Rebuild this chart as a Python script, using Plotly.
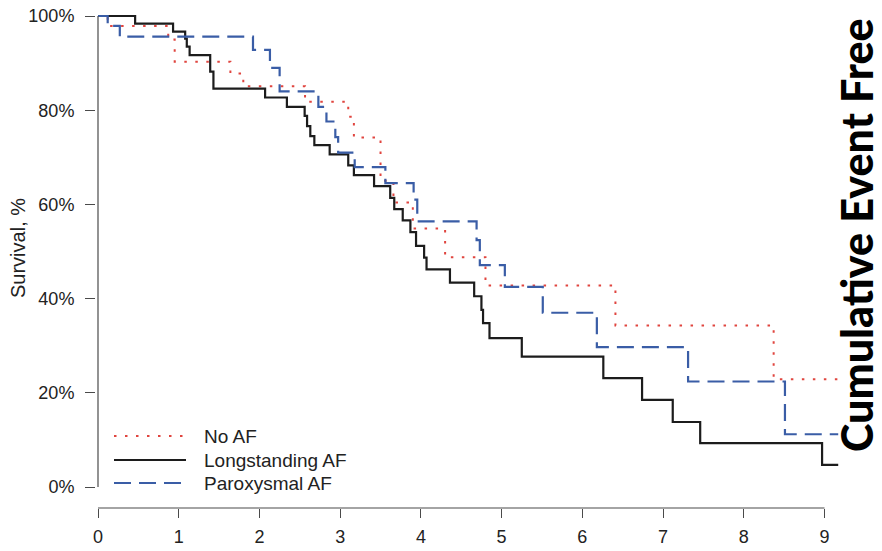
import plotly.graph_objects as go

# ---- data (time in years, survival fraction) ----
long_t = [0, 0.46, 0.93, 1.08, 1.10, 1.135, 1.39, 1.43, 2.07, 2.34, 2.56, 2.59, 2.63, 2.68,
          2.87, 3.10, 3.17, 3.42, 3.62, 3.67, 3.775, 3.87, 3.94, 4.04, 4.07, 4.36, 4.66,
          4.75, 4.77, 4.85, 5.25, 6.26, 6.74, 7.12, 7.46, 8.97, 9.17]
long_s = [1.000, 0.984, 0.967, 0.952, 0.935, 0.917, 0.882, 0.846, 0.827, 0.807, 0.788, 0.766,
          0.745, 0.726, 0.706, 0.683, 0.662, 0.639, 0.614, 0.590, 0.566, 0.541, 0.512, 0.487,
          0.462, 0.434, 0.405, 0.376, 0.348, 0.316, 0.277, 0.231, 0.185, 0.138, 0.093, 0.047,
          0.047]

noaf_t = [0, 0.12, 0.87, 0.95, 1.64, 1.80, 2.565, 3.10, 3.17, 3.50, 3.66, 3.90, 4.30, 4.80,
          6.41, 8.37, 9.17]
noaf_s = [1.000, 0.979, 0.950, 0.903, 0.878, 0.851, 0.818, 0.786, 0.742, 0.650, 0.604, 0.549,
          0.488, 0.428, 0.343, 0.229, 0.229]

parox_t = [0, 0.12, 0.27, 1.92, 2.13, 2.25, 2.73, 2.83, 2.94, 2.975, 3.18, 3.56, 3.91, 3.955,
           4.69, 4.73, 5.04, 5.51, 6.18, 7.31, 8.51, 9.17]
parox_s = [1.000, 0.979, 0.956, 0.928, 0.890, 0.840, 0.807, 0.776, 0.743, 0.710, 0.679, 0.645,
           0.610, 0.564, 0.524, 0.471, 0.425, 0.370, 0.297, 0.224, 0.112, 0.112]

x_ticks = [0, 1, 2, 3, 4, 5, 6, 7, 8, 9]
y_ticks = [0, 0.2, 0.4, 0.6, 0.8, 1.0]
y_labels = ["0%", "20%", "40%", "60%", "80%", "100%"]

series_names = ["No AF", "Longstanding AF", "Paroxysmal AF"]
RED, BLACK, BLUE = "#E0453F", "#1C1C1C", "#3A5DA6"
styles = {
    "No AF": dict(color=RED, width=2, dash="2.5px,8.5px"),
    "Longstanding AF": dict(color=BLACK, width=2.2, dash="solid"),
    "Paroxysmal AF": dict(color=BLUE, width=2.2, dash="17px,8px"),
}

fig = go.Figure()
for name, t, s in [("No AF", noaf_t, noaf_s), ("Longstanding AF", long_t, long_s),
                   ("Paroxysmal AF", parox_t, parox_s)]:
    fig.add_trace(go.Scatter(x=t, y=s, mode="lines", line_shape="hv", name=name,
                             line=styles[name], showlegend=False, hoverinfo="x+y+name"))

# ---- layout geometry (page body margin removed via post_script) ----
FW, FH = 882, 551
L, R, T, B = 96, 34, 10, 43
W = FW - L - R
H = FH - T - B
X0PX, X9PX = 98, 824.5       # where 0 and 9 fall
Y100, Y0 = 16, 487           # where 100% and 0% fall
xunit = (X9PX - X0PX) / 9
x0 = -(X0PX - L) / xunit
x1 = x0 + W / xunit
yunit = Y0 - Y100
y1 = 1 + (Y100 - T) / yunit
y0 = y1 - H / yunit

AX = "#4a4a4a"
TXT = "#222222"
FONT = "Liberation Sans"

fig.update_layout(
    width=FW, height=FH,
    margin=dict(l=L, r=R, t=T, b=B, autoexpand=False),
    paper_bgcolor="white", plot_bgcolor="white",
    font=dict(family=FONT, color=TXT, size=15),
    xaxis=dict(range=[x0, x1], tickvals=x_ticks, ticks="outside", ticklen=9, tickcolor=AX,
               tickwidth=1, showgrid=False, zeroline=False, showline=False, automargin=False,
               ticklabelstandoff=3, ticklabeloverflow="allow",
               tickfont=dict(size=18, family=FONT, color=TXT)),
    yaxis=dict(range=[y0, y1], tickvals=y_ticks, ticktext=y_labels, ticks="outside", ticklen=10,
               tickcolor=AX, tickwidth=1, showgrid=False, zeroline=False, showline=False,
               automargin=False, ticklabeloverflow="allow", ticklabelstandoff=7,
               tickfont=dict(size=18, family=FONT, color=TXT)),
)

# axis lines (R-style, spanning only the tick range)
fig.add_shape(type="line", xref="x", yref="y", x0=0, x1=0, y0=y_ticks[0], y1=y_ticks[-1],
              line=dict(color=AX, width=1.2))
fig.add_shape(type="line", xref="x", yref="paper", x0=x_ticks[0], x1=x_ticks[-1], y0=0, y1=0,
              line=dict(color=AX, width=1.2))

# custom legend
def px2paper_x(px):
    return (px - L) / W

def py2paper_y(py):
    return (FH - B - py) / H

leg_rows = [436, 460, 483]
for name, py in zip(series_names, leg_rows):
    st = styles[name]
    fig.add_shape(type="line", xref="paper", yref="paper",
                  x0=px2paper_x(114), x1=px2paper_x(186),
                  y0=py2paper_y(py), y1=py2paper_y(py),
                  line=dict(color=st["color"], width=st["width"], dash=st["dash"]))
    fig.add_annotation(xref="paper", yref="paper", x=px2paper_x(202), y=py2paper_y(py),
                       text=name, showarrow=False, xanchor="left", yanchor="middle",
                       font=dict(size=19, family=FONT, color=TXT))

fig.add_annotation(xref="paper", yref="paper", x=px2paper_x(18), y=py2paper_y(248),
                   text="Survival, %", showarrow=False, textangle=-90,
                   xanchor="center", yanchor="middle",
                   font=dict(size=20, family=FONT, color=TXT))

fig.add_annotation(xref="paper", yref="paper", x=px2paper_x(857), y=py2paper_y(235),
                   text="Cumulative Event Free", showarrow=False, textangle=-90,
                   xanchor="center", yanchor="middle",
                   font=dict(size=43, family="Lato", weight=900, color="#000000"))

fig.write_html("out.html", config={"displayModeBar": False},
               post_script="document.body.style.margin='0';document.body.style.overflow='hidden';")
